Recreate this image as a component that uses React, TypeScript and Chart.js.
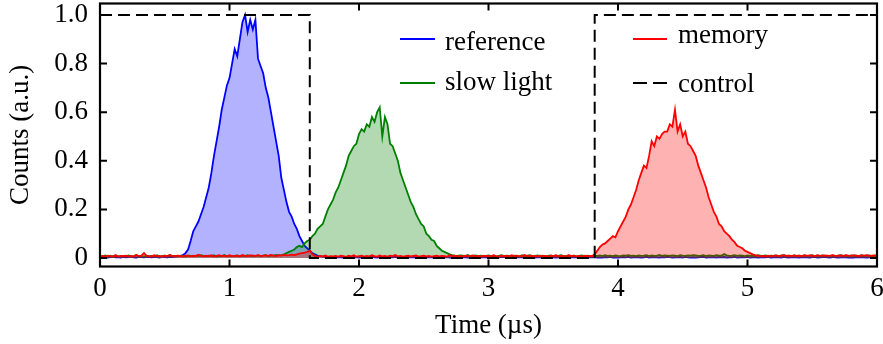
import React, { useEffect, useRef } from "react";
import { Chart, registerables } from "chart.js";

Chart.register(...registerables);

// sample spacing of the three traces (µs), one value every 0.02 µs from 0 to 6 µs
const TIME_STEP_US = 0.02;

const REFERENCE = [
  .004, .003, .005, .002, .004, .006, .003, .004, .002, .005,
  .003, .004, .006, .003, .002, .005, .004, .003, .005, .004,
  .003, .005, .004, .002, .006, .004, .003, .005, .004, .006,
  .007, .008, .012, .02, .035, .07, .11, .13, .15, .18,
  .21, .25, .29, .35, .42, .48, .54, .61, .66, .71,
  .74, .80, .86, .83, .90, .97, 1.0, .93, .98, .94,
  .98, .82, .79, .76, .70, .66, .60, .54, .48, .42,
  .33, .28, .23, .19, .17, .14, .12, .09, .07, .05,
  .04, .03, .02, .015, .01, .008, .006, .005, .004, .003,
  .003, .002, .004, .003, .002, .003, .005, .002, .003, .004,
  .002, .003, .004, .002, .003, .005, .003, .002, .004, .003,
  .004, .002, .003, .003, .005, .002, .004, .003, .002, .003,
  .003, .004, .002, .005, .003, .002, .003, .004, .003, .002,
  .002, .003, .005, .003, .004, .002, .003, .003, .004, .002,
  .004, .003, .002, .003, .005, .003, .002, .004, .003, .003,
  .003, .002, .004, .002, .003, .004, .005, .003, .002, .003,
  .002, .004, .003, .003, .002, .005, .003, .004, .002, .003,
  .003, .003, .005, .002, .004, .003, .002, .003, .004, .002,
  .004, .002, .003, .004, .003, .002, .005, .003, .003, .004,
  .003, .004, .002, .003, .002, .004, .003, .005, .002, .003,
  .002, .003, .004, .003, .005, .002, .003, .004, .003, .002,
  .003, .005, .002, .004, .003, .003, .002, .004, .003, .005,
  .004, .002, .003, .003, .004, .002, .005, .003, .002, .003,
  .002, .003, .004, .005, .002, .003, .003, .004, .002, .004,
  .003, .004, .002, .003, .003, .005, .002, .003, .004, .003,
  .005, .002, .003, .004, .002, .003, .004, .003, .005, .002,
  .003, .003, .004, .002, .005, .003, .002, .004, .003, .003,
  .002, .004, .003, .003, .002, .004, .005, .002, .003, .004,
  .004, .003, .002, .005, .003, .002, .003, .004, .003, .002,
  .003, .002, .004, .003, .004, .003, .002, .003, .005, .003,
  .003,
];

const SLOW_LIGHT = [
  .008, .006, .010, .007, .009, .005, .011, .008, .006, .009,
  .007, .010, .006, .008, .012, .007, .009, .006, .010, .008,
  .009, .007, .011, .006, .008, .010, .007, .012, .008, .009,
  .007, .010, .008, .006, .011, .009, .007, .010, .008, .012,
  .009, .007, .010, .008, .011, .006, .009, .008, .012, .007,
  .010, .008, .009, .011, .007, .010, .008, .012, .009, .010,
  .008, .011, .009, .010, .012, .008, .011, .010, .013, .011,
  .012, .015, .02, .025, .03, .035, .045, .05, .045, .06,
  .07, .075, .09, .10, .12, .13, .14, .17, .20, .22,
  .24, .27, .29, .32, .35, .38, .42, .44, .46, .47,
  .51, .53, .52, .55, .54, .58, .56, .60, .62, .50,
  .58, .55, .47, .46, .43, .40, .35, .32, .29, .26,
  .23, .21, .18, .16, .14, .13, .10, .09, .075, .07,
  .05, .04, .03, .025, .02, .015, .012, .01, .009, .011,
  .010, .008, .012, .007, .009, .011, .008, .010, .007, .009,
  .011, .008, .010, .006, .009, .012, .008, .010, .009, .007,
  .010, .009, .007, .011, .008, .010, .012, .008, .009, .011,
  .008, .010, .007, .009, .011, .008, .010, .009, .012, .008,
  .009, .011, .008, .010, .007, .009, .011, .008, .010, .009,
  .007, .010, .009, .011, .008, .012, .009, .010, .008, .011,
  .009, .008, .011, .010, .012, .009, .010, .008, .011, .009,
  .010, .012, .008, .011, .009, .010, .013, .009, .011, .010,
  .009, .011, .010, .008, .012, .010, .009, .011, .010, .012,
  .011, .009, .010, .012, .008, .011, .010, .009, .012, .010,
  .010, .016, .011, .009, .010, .012, .009, .011, .010, .008,
  .011, .009, .010, .008, .012, .010, .009, .011, .008, .010,
  .009, .011, .008, .010, .012, .009, .010, .008, .011, .009,
  .010, .008, .011, .009, .010, .012, .008, .010, .009, .011,
  .008, .010, .009, .011, .008, .010, .012, .009, .010, .008,
  .011, .009, .010, .008, .012, .009, .010, .011, .008, .010,
  .009,
];

const MEMORY = [
  .007, .009, .006, .010, .008, .007, .011, .006, .009, .008,
  .010, .007, .009, .006, .012, .008, .010, .020, .009, .007,
  .008, .011, .007, .009, .006, .010, .008, .012, .007, .009,
  .010, .008, .006, .011, .009, .007, .010, .008, .013, .009,
  .007, .010, .008, .011, .006, .009, .012, .008, .010, .007,
  .011, .008, .009, .010, .007, .012, .009, .008, .011, .010,
  .009, .012, .008, .010, .011, .009, .013, .010, .008, .012,
  .010, .013, .011, .012, .014, .012, .015, .018, .020, .022,
  .025, .030, .015, .008, .006, .009, .007, .010, .006, .008,
  .007, .009, .006, .010, .008, .005, .009, .007, .011, .006,
  .008, .010, .006, .009, .007, .011, .008, .006, .010, .007,
  .009, .006, .010, .008, .012, .007, .009, .006, .008, .010,
  .007, .009, .011, .006, .008, .010, .007, .009, .006, .008,
  .010, .007, .009, .008, .006, .011, .008, .010, .007, .009,
  .006, .010, .008, .009, .011, .007, .009, .006, .010, .008,
  .009, .007, .011, .008, .006, .010, .008, .009, .007, .011,
  .008, .010, .007, .009, .012, .006, .010, .008, .009, .007,
  .010, .008, .009, .006, .010, .008, .011, .007, .009, .008,
  .007, .011, .008, .010, .007, .009, .006, .010, .008, .009,
  .008, .015, .03, .045, .055, .06, .07, .08, .09, .085,
  .11, .13, .15, .17, .20, .22, .25, .28, .32, .35,
  .38, .37, .42, .48, .46, .50, .49, .51, .52, .52,
  .55, .54, .61, .52, .55, .50, .52, .47, .46, .44,
  .42, .38, .35, .32, .29, .25, .22, .19, .17, .14,
  .13, .11, .10, .09, .075, .065, .05, .045, .04, .03,
  .025, .02, .015, .012, .01, .008, .009, .007, .010, .008,
  .009, .011, .008, .010, .012, .009, .010, .008, .011, .009,
  .010, .008, .012, .009, .011, .010, .008, .012, .009, .010,
  .011, .009, .010, .012, .008, .010, .011, .009, .012, .010,
  .009, .012, .010, .008, .011, .010, .012, .009, .010, .011,
  .010,
];

const CONTROL_TIME = [0, 1.62, 1.62, 3.82, 3.82, 6];
const CONTROL_LEVEL = [1, 1, 0, 0, 1, 1];

const X_TICKS = [0, 1, 2, 3, 4, 5, 6];
const Y_TICKS = [0, 0.2, 0.4, 0.6, 0.8, 1.0];
const Y_TICK_LABELS = ["0", "0.2", "0.4", "0.6", "0.8", "1.0"];

const SERIES_LABELS = ["reference", "slow light", "memory", "control"];
const X_TITLE = "Time (µs)";
const Y_TITLE = "Counts (a.u.)";

const FONT_FAMILY = '"Liberation Serif", "DejaVu Serif", serif';
const FONT_SIZE = 27;

const toPoints = (vals: number[]) =>
  vals.map((v, i) => ({ x: i * TIME_STEP_US, y: v }));

const framePlugin = {
  id: "frameTicks",
  afterDatasetsDraw(chart: any) {
    const { ctx, chartArea, scales } = chart;
    const { left, right, top, bottom } = chartArea;
    const x = scales.x;
    const y = scales.y;
    const L = 7;
    ctx.save();
    ctx.strokeStyle = "#000";
    ctx.lineWidth = 2;
    ctx.beginPath();
    for (const v of X_TICKS) {
      const px = x.getPixelForValue(v);
      ctx.moveTo(px, bottom);
      ctx.lineTo(px, bottom - L);
      ctx.moveTo(px, top);
      ctx.lineTo(px, top + L);
    }
    for (const v of Y_TICKS) {
      const py = y.getPixelForValue(v);
      ctx.moveTo(left, py);
      ctx.lineTo(left + L, py);
      ctx.moveTo(right, py);
      ctx.lineTo(right - L, py);
    }
    ctx.stroke();
    ctx.lineWidth = 2.2;
    ctx.strokeRect(left, top, right - left, bottom - top);
    ctx.restore();
  },
};

const legendPlugin = {
  id: "cornerLegend",
  afterDraw(chart: any) {
    const { ctx } = chart;
    const entries = [
      { label: SERIES_LABELS[0], color: "#0000ff", dash: [], x0: 400, x1: 435, ly: 39, tx: 445, ty: 50 },
      { label: SERIES_LABELS[1], color: "#008000", dash: [], x0: 400, x1: 435, ly: 83, tx: 445, ty: 90 },
      { label: SERIES_LABELS[2], color: "#ff0000", dash: [], x0: 633, x1: 667, ly: 39, tx: 678, ty: 43 },
      { label: SERIES_LABELS[3], color: "#000000", dash: [14, 6], x0: 633, x1: 667, ly: 83, tx: 678, ty: 92 },
    ];
    ctx.save();
    ctx.font = `${FONT_SIZE}px ${FONT_FAMILY}`;
    ctx.textBaseline = "alphabetic";
    ctx.textAlign = "left";
    for (const e of entries) {
      ctx.strokeStyle = e.color;
      ctx.lineWidth = 1.8;
      ctx.setLineDash(e.dash);
      ctx.beginPath();
      ctx.moveTo(e.x0, e.ly);
      ctx.lineTo(e.x1, e.ly);
      ctx.stroke();
      ctx.setLineDash([]);
      ctx.fillStyle = "#000";
      ctx.fillText(e.label, e.tx, e.ty);
    }
    ctx.restore();
  },
};

export default function App() {
  const canvasRef = useRef<HTMLCanvasElement | null>(null);

  useEffect(() => {
    const canvas = canvasRef.current;
    if (!canvas) return;
    const font = { family: FONT_FAMILY, size: FONT_SIZE };
    const chart = new Chart(canvas, {
      type: "line",
      data: {
        datasets: [
          {
            label: SERIES_LABELS[3],
            data: CONTROL_TIME.map((t, i) => ({ x: t, y: CONTROL_LEVEL[i] })),
            borderColor: "#000000",
            borderWidth: 2,
            borderDash: [12, 6],
            pointRadius: 0,
            fill: false,
            tension: 0,
          },
          {
            label: SERIES_LABELS[2],
            data: toPoints(MEMORY),
            borderColor: "#ff0000",
            backgroundColor: "rgba(255,0,0,0.3)",
            borderWidth: 1.8,
            pointRadius: 0,
            fill: "origin",
            tension: 0,
          },
          {
            label: SERIES_LABELS[1],
            data: toPoints(SLOW_LIGHT),
            borderColor: "#008000",
            backgroundColor: "rgba(0,128,0,0.3)",
            borderWidth: 1.8,
            pointRadius: 0,
            fill: "origin",
            tension: 0,
          },
          {
            label: SERIES_LABELS[0],
            data: toPoints(REFERENCE),
            borderColor: "#0000ff",
            backgroundColor: "rgba(0,0,255,0.3)",
            borderWidth: 1.8,
            pointRadius: 0,
            fill: "origin",
            tension: 0,
          },
        ],
      },
      options: {
        animation: false,
        responsive: false,
        maintainAspectRatio: false,
        layout: { padding: { left: 0, top: 3.5, right: 6, bottom: 0 } },
        plugins: {
          legend: { display: false },
          tooltip: { enabled: false },
        },
        scales: {
          x: {
            type: "linear",
            min: 0,
            max: 6,
            afterBuildTicks: (scale: any) => {
              scale.ticks = X_TICKS.map((v) => ({ value: v }));
            },
            afterFit: (scale: any) => {
              scale.height = 77.5;
              scale.paddingLeft = 0;
              scale.paddingRight = 0;
            },
            grid: { display: false, drawTicks: false },
            border: { display: false },
            ticks: {
              font,
              color: "#000",
              padding: 6,
              maxRotation: 0,
              autoSkip: false,
              callback: (v: any) => String(v),
            },
            title: {
              display: true,
              text: X_TITLE,
              font,
              color: "#000",
              padding: { top: 0, bottom: 2 },
            },
          },
          y: {
            type: "linear",
            min: -0.035,
            max: 1.047,
            afterBuildTicks: (scale: any) => {
              scale.ticks = Y_TICKS.map((v) => ({ value: v }));
            },
            afterFit: (scale: any) => {
              scale.width = 100;
              scale.paddingTop = 0;
              scale.paddingBottom = 0;
            },
            grid: { display: false, drawTicks: false },
            border: { display: false },
            ticks: {
              font,
              color: "#000",
              padding: 12,
              autoSkip: false,
              callback: (v: any) => {
                const idx = Y_TICKS.findIndex((t) => Math.abs(t - v) < 1e-9);
                return idx >= 0 ? Y_TICK_LABELS[idx] : "";
              },
            },
            title: {
              display: true,
              text: Y_TITLE,
              font,
              color: "#000",
              padding: { top: 5, bottom: 0 },
            },
          },
        },
      },
      plugins: [framePlugin, legendPlugin],
    });
    return () => chart.destroy();
  }, []);

  return (
    <div style={{ position: "absolute", left: 0, top: 0, width: 883, height: 344, background: "#fff" }}>
      <canvas ref={canvasRef} width={883} height={344} style={{ display: "block", width: 883, height: 344 }} />
    </div>
  );
}
